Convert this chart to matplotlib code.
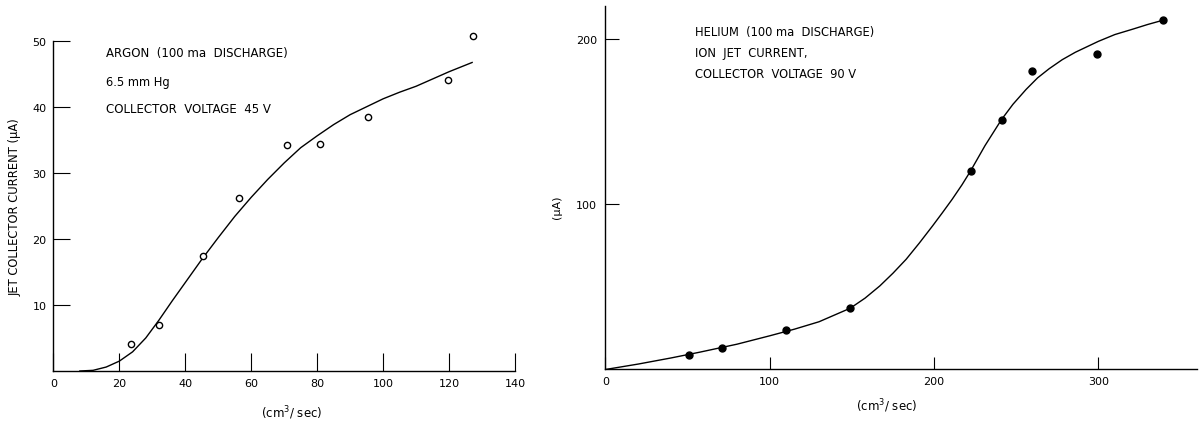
import matplotlib
matplotlib.use("Agg")
import matplotlib.pyplot as plt

plt.rcParams['font.family'] = ['DejaVu Sans']

# --- datos: argon ---
argon_x = [23.5, 32, 45.5, 56.3, 70.8, 80.9, 95.4, 119.8, 127.2]
argon_y = [4.1, 7.0, 17.4, 26.2, 34.2, 34.4, 38.5, 44.0, 50.7]
argon_fit_x = [8, 12, 16, 20, 24, 28, 32, 36, 40, 45, 50, 55, 60, 65, 70, 75, 80,
               85, 90, 95, 100, 105, 110, 115, 120, 127]
argon_fit_y = [0, 0.1, 0.6, 1.5, 2.9, 5.0, 7.7, 10.6, 13.4, 16.9, 20.2, 23.4, 26.3,
               29.0, 31.5, 33.8, 35.6, 37.3, 38.8, 40.0, 41.2, 42.2, 43.1, 44.2, 45.3, 46.7]

# --- datos: helio ---
helio_x = [50.9, 70.7, 110.1, 148.9, 222.2, 241.4, 259.6, 299.2, 339.4]
helio_y = [8.9, 13.1, 24.2, 37.1, 120.0, 151.2, 180.7, 190.7, 211.3]
helio_fit_x = [0, 20, 40, 57, 80, 100, 115, 130, 149, 158, 167, 175, 183, 191, 199,
               205, 211, 217, 222, 231, 241, 248, 256, 263, 270, 278, 286, 300, 310,
               321, 330, 339]
helio_fit_y = [0, 3.3, 7.0, 10.4, 15.3, 20.4, 24.4, 28.9, 37.1, 43.2, 50.6, 58.3, 66.7,
               76.5, 86.8, 94.8, 103, 111.8, 119.8, 135.5, 151.2, 160.5, 169.5, 176.5,
               182, 187.5, 192, 198.6, 202.7, 206, 208.8, 211.3]

argon_xticks = [0, 20, 40, 60, 80, 100, 120, 140]
argon_yticks = [10, 20, 30, 40, 50]
helio_xticks = [0, 100, 200, 300]
helio_yticks = [100, 200]

fig = plt.figure(figsize=(11.99, 4.31), dpi=100)
ax1 = fig.add_axes([0.0446, 0.1369, 0.3849, 0.7664])
ax2 = fig.add_axes([0.505, 0.1404, 0.4933, 0.8434])

for ax in (ax1, ax2):
    ax.spines['top'].set_visible(False)
    ax.spines['right'].set_visible(False)
    ax.spines['left'].set_linewidth(1.0)
    ax.spines['bottom'].set_linewidth(1.0)
    ax.tick_params(direction='in', labelsize=8, width=0.8, color='black')

# panel izquierdo
ax1.plot(argon_fit_x, argon_fit_y, color='black', linewidth=1.0)
ax1.plot(argon_x, argon_y, 'o', markersize=4.5, markerfacecolor='white',
         markeredgecolor='black', markeredgewidth=1.0, clip_on=False)
ax1.set_xlim(0, 140)
ax1.set_ylim(0, 50)
ax1.set_xticks(argon_xticks)
ax1.set_yticks(argon_yticks)
ax1.tick_params(axis='x', length=13, pad=5)
ax1.tick_params(axis='y', length=12, pad=5)
ax1.text(15.9, 48.2, "ARGON  (100 ma  DISCHARGE)", fontsize=8.5, va='center')
ax1.text(15.9, 43.8, "6.5 mm Hg", fontsize=8.3, va='center')
ax1.text(15.9, 39.7, "COLLECTOR  VOLTAGE  45 V", fontsize=8.5, va='center')
ax1.set_ylabel("JET COLLECTOR CURRENT (μA)", fontsize=8.3)
ax1.yaxis.set_label_coords(-0.07, 0.5)
fig.text(292 / 1199, 1 - 413 / 431, r"(cm$^3$/ sec)", fontsize=8.5, ha='center', va='center')

# panel derecho
ax2.plot(helio_fit_x, helio_fit_y, color='black', linewidth=1.0)
ax2.plot(helio_x, helio_y, 'o', markersize=5, color='black', clip_on=False)
ax2.set_xlim(0, 360)
ax2.set_ylim(0, 220)
ax2.set_xticks(helio_xticks)
ax2.set_yticks(helio_yticks)
ax2.tick_params(axis='x', length=9, pad=5)
ax2.tick_params(axis='y', length=10, pad=6)
ax2.text(54.6, 204.4, "HELIUM  (100 ma  DISCHARGE)", fontsize=8.3, va='center')
ax2.text(54.6, 191.8, "ION  JET  CURRENT,", fontsize=8.3, va='center')
ax2.text(54.6, 179.1, "COLLECTOR  VOLTAGE  90 V", fontsize=8.3, va='center')
fig.text(557 / 1199, 1 - 207 / 431, "(μA)", fontsize=8, rotation=90, ha='center', va='center')
fig.text(887 / 1199, 1 - 406 / 431, r"(cm$^3$/ sec)", fontsize=8.5, ha='center', va='center')

fig.savefig("out.png", dpi=100)
